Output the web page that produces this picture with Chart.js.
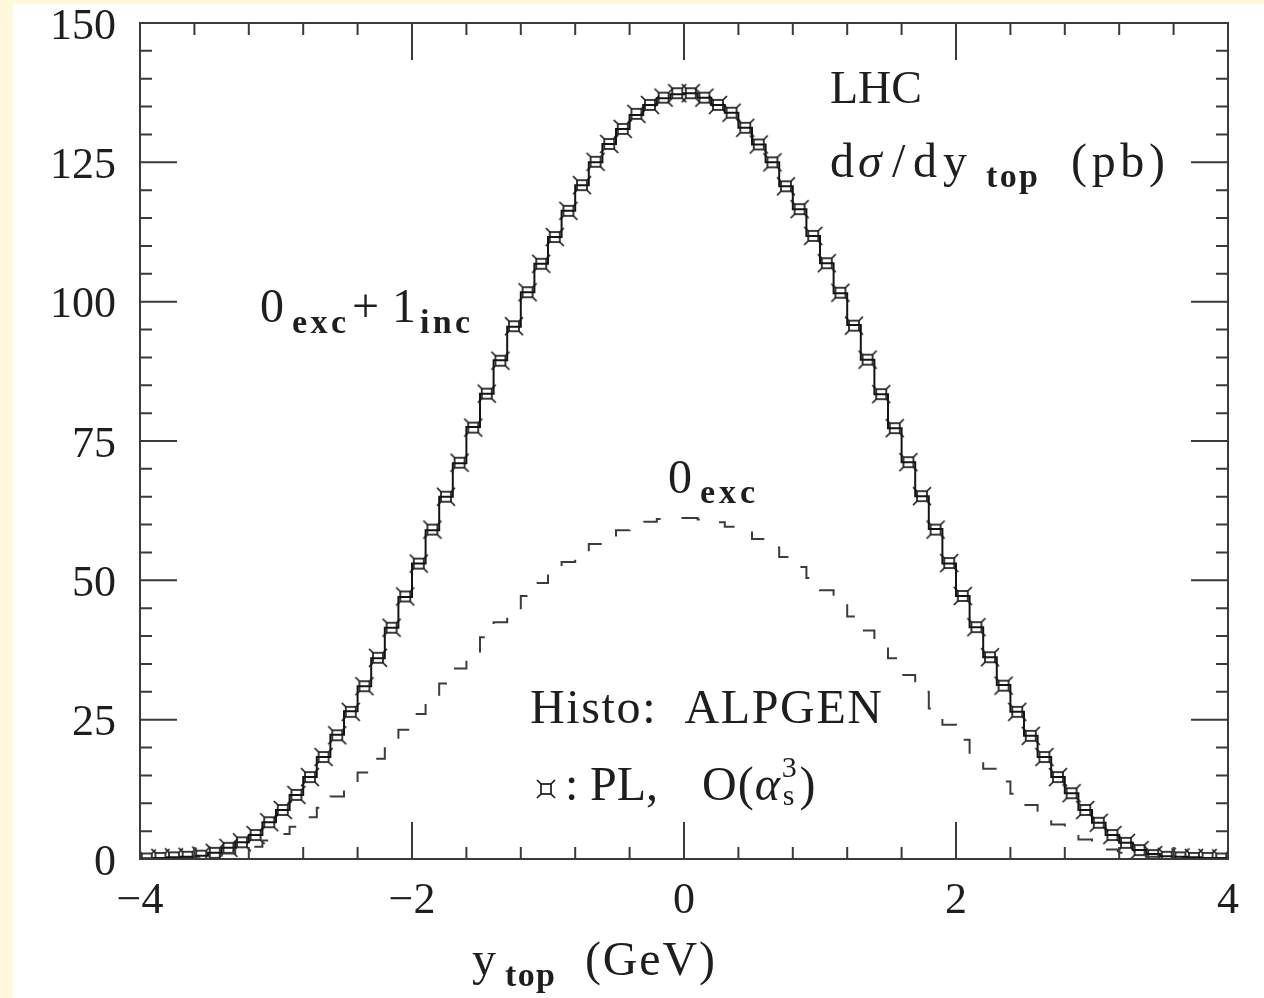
<!DOCTYPE html>
<html>
<head>
<meta charset="utf-8">
<script src="https://cdn.jsdelivr.net/npm/chart.js@4.4.1/dist/chart.umd.min.js"></script>
<style>
  html, body { margin: 0; padding: 0; background: #fff8dc; }
  #wrap { position: absolute; left: 13px; top: 4px; width: 1251px; height: 994px; background: #fff; }
  canvas { display: block; }
</style>
</head>
<body>
<div id="wrap"><canvas id="chart" width="1251" height="994"></canvas></div>
<script>
// axis setup
const xMin = -4;
const xMax = 4;
const binWidth = 0.1;
const xTicks = [-4, -2, 0, 2, 4];
const yTicks = [0, 25, 50, 75, 100, 125, 150];
const xMinorStep = 0.4;
const yMinorStep = 5;

// ALPGEN 0exc+1inc histogram, one value per 0.1 bin from -4 to 4
const combinedHisto = [
  0.1, 0.2, 0.3, 0.4, 0.6, 1.1, 2.0, 3.0, 4.3, 6.6,
  8.8, 11.5, 14.7, 18.3, 22.3, 26.5, 31.0, 36.0, 41.5, 47.0,
  53.0, 59.0, 65.0, 71.0, 77.5, 83.5, 89.5, 95.5, 101.7, 106.8,
  111.6, 116.3, 120.9, 125.0, 128.3, 131.0, 133.5, 135.3, 136.5, 137.2,
  137.4, 136.6, 135.3, 133.9, 131.2, 128.2, 125.0, 120.7, 116.6, 111.8,
  106.9, 101.5, 95.8, 89.6, 83.4, 77.3, 71.2, 65.1, 59.2, 53.0,
  47.2, 41.6, 36.2, 31.2, 26.4, 22.1, 18.3, 14.7, 11.8, 8.8,
  6.5, 4.3, 2.9, 1.6, 0.9, 0.5, 0.4, 0.3, 0.2, 0.2
];

// ALPGEN 0exc histogram (dashed)
const exclusiveHisto = [
  0.1, 0.1, 0.2, 0.3, 0.4, 0.6, 1.0, 1.5, 2.2, 3.3,
  4.5, 5.8, 7.5, 9.2, 11.2, 13.3, 15.5, 18.0, 20.5, 23.2,
  26.0, 28.8, 31.5, 34.2, 37.0, 39.8, 42.5, 45.0, 47.2, 49.5,
  51.5, 53.3, 55.0, 56.5, 57.8, 59.0, 59.8, 60.5, 61.0, 61.2,
  61.2, 60.9, 60.4, 59.6, 58.6, 57.4, 55.9, 54.2, 52.4, 50.4,
  48.2, 45.9, 43.5, 41.0, 38.6, 36.0, 33.0, 30.0, 27.0, 24.1,
  21.4, 18.7, 16.2, 13.9, 11.7, 9.7, 7.9, 6.2, 4.7, 3.5,
  2.5, 1.7, 1.1, 0.7, 0.4, 0.3, 0.2, 0.1, 0.1, 0.1
];

// PL O(alpha_s^3) points at bin centres
const plPoints = [
  0.1, 0.2, 0.3, 0.4, 0.6, 1.1, 2.0, 3.0, 4.3, 6.6,
  8.8, 11.5, 14.7, 18.3, 22.2, 26.4, 31.0, 36.1, 41.5, 47.1,
  53.0, 59.1, 65.0, 71.1, 77.4, 83.5, 89.4, 95.6, 101.7, 106.8,
  111.6, 116.3, 120.9, 125.1, 128.3, 131.0, 133.7, 135.3, 136.6, 137.4,
  137.4, 136.6, 135.3, 133.9, 131.2, 128.2, 125.0, 120.7, 116.6, 111.8,
  106.9, 101.6, 95.7, 89.6, 83.4, 77.3, 71.2, 65.1, 59.1, 53.1,
  47.2, 41.6, 36.2, 31.1, 26.4, 22.1, 18.3, 14.7, 11.8, 8.8,
  6.5, 4.3, 2.9, 1.6, 0.7, 0.4, 0.3, 0.2, 0.2, 0.1
];

const FONT = '"Liberation Serif", "DejaVu Serif", serif';
const INK = "#1e1e1e";
const OFFSET_X = 13; // canvas sits at (13, 4) in the page
const OFFSET_Y = 4;

const binEdges = combinedHisto.map((_, i) => Math.round((xMin + i * binWidth) * 10) / 10).concat([xMax]);
const binCenters = combinedHisto.map((_, i) => Math.round((xMin + (i + 0.5) * binWidth) * 100) / 100);

// point i on the left edge of bin i; "before" draws the flat tread to the next edge first
function stepData(values) {
  return binEdges.map((x, i) => ({ x, y: values[Math.min(i, values.length - 1)] }));
}

function makeMarker() {
  const c = document.createElement("canvas");
  c.width = 22;
  c.height = 22;
  const g = c.getContext("2d");
  g.strokeStyle = "#1a1a1a";
  g.lineWidth = 1.7;
  g.strokeRect(6, 6, 10, 10);
  g.beginPath();
  [[6, 6, -1, -1], [16, 6, 1, -1], [6, 16, -1, 1], [16, 16, 1, 1]].forEach(([x, y, dx, dy]) => {
    g.moveTo(x, y);
    g.lineTo(x + dx * 4, y + dy * 4);
  });
  g.stroke();
  return c;
}
const marker = makeMarker();

// one text piece at a page position; w widens it slightly with letter spacing
function put(ctx, t, x, y, size, opts = {}) {
  ctx.font = `${opts.italic ? "italic " : ""}${opts.bold ? "bold " : ""}${size}px ${FONT}`;
  ctx.letterSpacing = "0px";
  const natural = ctx.measureText(t).width;
  if (opts.w) {
    const n = [...t].length;
    if (n > 1) ctx.letterSpacing = ((opts.w - natural) / (n - 1)).toFixed(2) + "px";
  }
  ctx.fillText(t, x, y);
  ctx.letterSpacing = "0px";
  return x + (opts.w || natural);
}

const frameTicks = {
  id: "frameTicks",
  afterDatasetsDraw(chart) {
    const { ctx, chartArea: a, scales } = chart;
    const xs = scales.x;
    const ys = scales.y;
    ctx.save();
    ctx.strokeStyle = "#3a3a3a";
    ctx.lineWidth = 2;
    ctx.strokeRect(a.left, a.top, a.right - a.left, a.bottom - a.top);
    ctx.beginPath();
    for (let k = 0; k <= Math.round((xMax - xMin) / xMinorStep); k++) {
      const v = xMin + k * xMinorStep;
      const major = xTicks.some((t) => Math.abs(t - v) < 1e-6);
      const len = major ? 37 : 12;
      const px = xs.getPixelForValue(v);
      ctx.moveTo(px, a.bottom);
      ctx.lineTo(px, a.bottom - len);
      ctx.moveTo(px, a.top);
      ctx.lineTo(px, a.top + len);
    }
    for (let v = 0; v <= 150; v += yMinorStep) {
      const major = yTicks.includes(v);
      const len = major ? 37 : 12;
      const py = ys.getPixelForValue(v);
      ctx.moveTo(a.left, py);
      ctx.lineTo(a.left + len, py);
      ctx.moveTo(a.right, py);
      ctx.lineTo(a.right - len, py);
    }
    ctx.stroke();
    ctx.restore();
  },
  afterDraw(chart) {
    const { ctx } = chart;
    ctx.save();
    ctx.translate(-OFFSET_X, -OFFSET_Y);
    ctx.fillStyle = INK;
    ctx.textBaseline = "alphabetic";
    ctx.textAlign = "left";
    const big = 48;
    const sub = 34;

    put(ctx, "LHC", 830, 103, 46);

    put(ctx, "d", 830, 177, big);
    put(ctx, "σ", 858, 177, big, { italic: true });
    put(ctx, "/", 892, 177, big);
    put(ctx, "d", 913, 177, big);
    put(ctx, "y", 943, 177, big);
    put(ctx, "top", 986, 187, sub, { bold: true, w: 52 });
    put(ctx, "(pb)", 1071, 177, big, { w: 94 });

    put(ctx, "0", 260, 322, big);
    put(ctx, "exc", 292, 333, sub, { bold: true, w: 54 });
    put(ctx, "+", 352, 322, big);
    put(ctx, "1", 392, 322, big);
    put(ctx, "inc", 420, 333, sub, { bold: true, w: 50 });

    put(ctx, "0", 668, 493, big);
    put(ctx, "exc", 700, 503, sub, { bold: true, w: 55 });

    put(ctx, "Histo:  ALPGEN", 530, 723, big, { w: 352 });

    ctx.drawImage(marker, 546 - marker.width / 2, 789 - marker.height / 2);
    put(ctx, ":", 565, 800, big);
    put(ctx, "PL,", 590, 800, big);
    let x = put(ctx, "O", 702, 800, big);
    x = put(ctx, "(", x + 1, 800, big);
    x = put(ctx, "α", x + 1, 800, big, { italic: true });
    put(ctx, "3", x + 2, 777, 30);
    x = put(ctx, "s", x + 3, 805, 30);
    put(ctx, ")", x + 5, 800, big);

    put(ctx, "y", 472, 975, big);
    put(ctx, "top", 505, 986, sub, { bold: true, w: 50 });
    put(ctx, "(GeV)", 585, 975, big, { w: 130 });
    ctx.restore();
  }
};

new Chart(document.getElementById("chart"), {
  type: "line",
  data: {
    datasets: [
      {
        label: "0exc+1inc",
        data: stepData(combinedHisto),
        stepped: "before",
        borderColor: "#141414",
        borderWidth: 2,
        pointRadius: 0,
        fill: false
      },
      {
        label: "0exc",
        data: stepData(exclusiveHisto),
        stepped: "before",
        borderColor: "#3c3c3c",
        borderWidth: 2,
        borderDash: [20, 22],
        pointRadius: 0,
        fill: false
      },
      {
        label: "PL",
        data: binCenters.map((x, i) => ({ x, y: plPoints[i] })),
        showLine: false,
        pointStyle: marker,
        pointRadius: 5
      }
    ]
  },
  options: {
    responsive: false,
    animation: false,
    devicePixelRatio: 1,
    layout: { padding: { left: 0, top: 19, right: 36, bottom: 0 } },
    plugins: { legend: { display: false }, tooltip: { enabled: false } },
    scales: {
      x: {
        type: "linear",
        min: xMin,
        max: xMax,
        afterBuildTicks(scale) {
          scale.ticks = xTicks.map((value) => ({ value }));
        },
        afterFit(scale) {
          scale.height = 139;
          scale.paddingLeft = 0;
          scale.paddingRight = 0;
        },
        grid: { display: false },
        border: { display: false },
        ticks: {
          color: INK,
          font: { family: FONT, size: 44, lineHeight: 0.8 },
          padding: 17,
          maxRotation: 0,
          autoSkip: false,
          callback: (v) => (v < 0 ? "\u2212" + Math.abs(v) : String(v))
        }
      },
      y: {
        min: 0,
        max: 150,
        afterBuildTicks(scale) {
          scale.ticks = yTicks.map((value) => ({ value }));
        },
        afterFit(scale) {
          scale.width = 127;
          scale.paddingTop = 0;
          scale.paddingBottom = 0;
        },
        grid: { display: false },
        border: { display: false },
        ticks: {
          color: INK,
          font: { family: FONT, size: 44, lineHeight: 0.8 },
          padding: 16,
          labelOffset: 4,
          autoSkip: false
        }
      }
    }
  },
  plugins: [frameTicks]
});
</script>
</body>
</html>
